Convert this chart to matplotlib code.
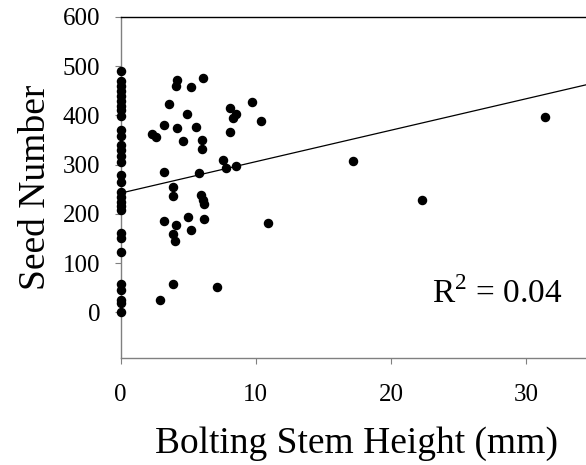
import matplotlib
matplotlib.use("Agg")
import matplotlib.pyplot as plt
import numpy as np

plt.rcParams['font.family'] = 'Liberation Serif'
plt.rcParams['mathtext.fontset'] = 'custom'
plt.rcParams['mathtext.rm'] = 'Liberation Serif'

# plants that never bolted (stem height 0)
zero_seeds = [491, 470, 460, 450, 440, 430, 420, 410, 398, 370, 358, 340, 330,
              318, 305, 278, 265, 245, 235, 225, 215, 207, 162, 150, 122, 58,
              45, 25, 18, 0]

# bolted plants
stem_height = [2.3, 2.6, 3.2, 3.6, 3.2, 3.9, 3.9, 3.2, 4.1, 4.2, 4.1, 4.2, 4.6,
               4.9, 5.2, 6.1, 5.6, 6.0, 6.0, 5.8, 5.95, 6.1, 6.2, 6.2, 5.0, 5.2,
               3.9, 4.0, 3.9, 2.9, 7.1, 8.1, 8.5, 8.3, 8.1, 7.6, 7.8, 8.5, 9.7,
               10.4, 10.9, 17.2, 22.3, 31.4]
seed_number = [363, 357, 380, 424, 285, 254, 236, 186, 177, 472, 460, 375, 347,
               403, 457, 477, 377, 351, 331, 283, 238, 228, 220, 189, 194, 168,
               160, 145, 58, 24, 51, 415, 402, 394, 367, 309, 293, 297, 428,
               389, 182, 308, 228, 396]

trend_intercept = 242
trend_slope = 6.4
r_squared = 0.04

x_all = [0] * len(zero_seeds) + stem_height
y_all = zero_seeds + seed_number

fig = plt.figure(figsize=(5.86, 4.65), dpi=100)
ax = fig.add_axes([120.5 / 586, 1 - 358 / 465, 1 - 120.5 / 586, (358 - 17) / 465])

xmax = 34.4
ax.scatter(x_all, y_all, s=34, c='black', zorder=3, clip_on=False)
xs = np.array([0, xmax])
ax.plot(xs, trend_intercept + trend_slope * xs, color='black', lw=0.9)

ax.set_xlim(0, xmax)
ax.set_ylim(-93, 600)
ax.set_xticks([0, 10, 20, 30])
ax.set_yticks([0, 100, 200, 300, 400, 500, 600])

for s in ['left', 'bottom']:
    ax.spines[s].set_color('#808080')
    ax.spines[s].set_linewidth(1)
ax.spines['top'].set_color('black')
ax.spines['top'].set_linewidth(1)
ax.spines['right'].set_visible(False)

ax.tick_params(axis='both', direction='out', length=4, color='#808080',
               labelsize=18)
ax.tick_params(axis='x', pad=14.5)
ax.tick_params(axis='y', pad=10.5)

ax.set_xlabel('Bolting Stem Height (mm)', fontsize=27)
ax.set_ylabel('Seed Number', fontsize=27)
ax.xaxis.set_label_coords(0.508, -0.2)
ax.yaxis.set_label_coords(-0.145, 0.5)

ax.text(23.0, 18, 'R$^{2}$ = %.2f' % r_squared, fontsize=24,
        ha='left', va='baseline')

fig.savefig('out.png', dpi=100)
